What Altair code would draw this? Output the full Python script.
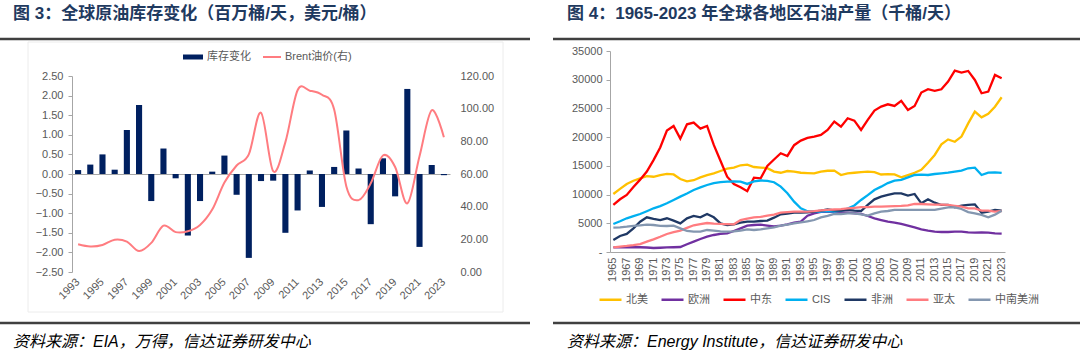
import altair as alt
import pandas as pd

# ---------------- Figure 3: inventory change & Brent ----------------
years3 = [str(y) for y in range(1993, 2024)]
stock_change = [0.10, 0.24, 0.50, 0.11, 1.12, 1.76, -0.69, 0.65, -0.11, -1.57,
                -0.69, 0.06, 0.47, -0.53, -2.14, -0.18, -0.17, -1.50, -0.93, 0.09,
                -0.84, 0.18, 1.11, 0.14, -1.28, 0.40, -0.57, 2.17, -1.86, 0.23, -0.03]
brent = [17.0, 15.6, 16.5, 19.8, 18.6, 12.8, 17.8, 28.4, 24.4, 24.9,
         28.8, 38.2, 54.8, 65.2, 72.0, 97.5, 61.7, 79.5, 111.3, 111.0,
         108.5, 99.5, 52.4, 44.0, 54.3, 71.3, 64.3, 42.0, 70.9, 99.0, 82.5]
left_ticks = [-2.5, -2.0, -1.5, -1.0, -0.5, 0.0, 0.5, 1.0, 1.5, 2.0, 2.5]
right_ticks = [0, 20, 40, 60, 80, 100, 120]
label_years3 = years3[::2]
series3 = ["库存变化", "Brent油价(右)"]

# ---------------- Figure 4: regional oil production ----------------
years4 = [str(y) for y in range(1965, 2024)]
regions = ["北美", "欧洲", "中东", "CIS", "非洲", "亚太", "中南美洲"]
region_colors = ["#FFC000", "#7030A0", "#FF0000", "#00B0F0", "#1F3864", "#FF7C80", "#8497B0"]
north_america = [10100, 11000, 11850, 12400, 12830, 13200, 13100, 13400, 13600, 13500,
                 12700, 12300, 12500, 13000, 13400, 13700, 14100, 14500, 14700, 15100,
                 15200, 14800, 14700, 14600, 14000, 13800, 14100, 14000, 13800, 13750,
                 13700, 14000, 14150, 14170, 13400, 13700, 13800, 13900, 14000, 13900,
                 13500, 13550, 13500, 13000, 13400, 13800, 14300, 15550, 16900, 18750,
                 19600, 19200, 20100, 22400, 24450, 23450, 24050, 25300, 26950]
europe = [810, 820, 830, 830, 830, 780, 700, 740, 800, 830,
          870, 1340, 1800, 2260, 2670, 2960, 3140, 3250, 3660, 4120,
          4590, 4700, 4750, 4600, 4450, 4600, 4820, 5110, 5300, 6330,
          6740, 7000, 7030, 6950, 6900, 6850, 6750, 6620, 6270, 5870,
          5570, 5280, 5110, 4880, 4590, 4300, 3950, 3720, 3540, 3480,
          3480, 3540, 3540, 3430, 3370, 3430, 3370, 3250, 3190]
middle_east = [8190, 9180, 9930, 11300, 12600, 14000, 16000, 18200, 21140, 21950,
               19740, 22240, 22530, 21490, 21950, 18640, 15900, 13120, 11850, 11270,
               10600, 12950, 12830, 14980, 16100, 17190, 16720, 18600, 19400, 19860,
               20090, 20380, 21250, 22700, 21830, 23290, 22880, 21250, 23000, 24620,
               25320, 25720, 25430, 26310, 24740, 25430, 27760, 28340, 28050, 28340,
               29670, 31590, 31240, 31530, 29960, 27640, 27930, 30830, 30250]
cis = [4880, 5350, 5870, 6250, 6620, 7100, 7610, 8000, 8480, 9060,
       9640, 10200, 10800, 11250, 11670, 12000, 12150, 12250, 12300, 12250,
       11850, 12300, 12450, 12400, 12150, 11380, 10220, 8770, 7610, 7100,
       7030, 7030, 7100, 7030, 7200, 7550, 8100, 9060, 9900, 10800,
       11380, 12000, 12430, 12550, 13000, 13410, 13470, 13410, 13580, 13700,
       13820, 14000, 14170, 14580, 14690, 13410, 13820, 13880, 13760]
africa = [2090, 2790, 3140, 4120, 5280, 6040, 5750, 5570, 5870, 5460,
          4990, 5870, 6270, 6040, 6620, 6040, 4990, 4700, 4820, 5110,
          5280, 5280, 5400, 5460, 5980, 6560, 6700, 6850, 6850, 6900,
          7030, 7200, 7400, 7250, 7200, 7320, 7200, 7140, 8190, 9170,
          9640, 9930, 10220, 10220, 9810, 10100, 8480, 9170, 8590, 8190,
          8190, 7780, 8070, 8190, 8300, 6850, 7030, 7320, 7200]
asia_pacific = [810, 930, 1050, 1200, 1390, 1800, 2210, 2650, 3140, 3450,
                3720, 4200, 4650, 4850, 5050, 4950, 4880, 4850, 4820, 5570,
                5800, 6040, 6100, 6330, 6500, 6850, 6950, 7030, 7030, 7030,
                7100, 7250, 7320, 7400, 7450, 7610, 7700, 7800, 7800, 7900,
                7900, 7950, 8000, 8020, 8100, 8360, 8360, 8300, 8250, 8250,
                8190, 8050, 7900, 7610, 7610, 7200, 7200, 7030, 7140]
south_central_america = [4240, 4300, 4410, 4550, 4650, 4750, 4700, 4550, 4530, 4600,
                         4120, 3660, 3540, 3540, 3830, 3720, 3600, 3540, 3600, 3720,
                         3950, 3830, 3950, 4120, 4300, 4590, 4750, 4990, 5150, 5350,
                         5570, 6040, 6280, 6620, 6620, 6740, 6740, 6560, 6330, 6740,
                         7030, 7140, 7320, 7320, 7320, 7320, 7320, 7320, 7320, 7550,
                         7780, 7780, 7490, 6950, 6740, 6450, 6040, 6500, 7200]
y4_ticks = [0, 5000, 10000, 15000, 20000, 25000, 30000, 35000]
label_years4 = years4[::2]

title3 = "图 3：全球原油库存变化（百万桶/天，美元/桶）"
title4 = "图 4：1965-2023 年全球各地区石油产量（千桶/天）"
source3 = "资料来源：EIA，万得，信达证券研发中心"
source4 = "资料来源：Energy Institute，信达证券研发中心"

FONT = "Liberation Sans, Noto Sans CJK SC, sans-serif"
TITLE_COLOR = "#1F3A5F"
LABEL_COLOR = "#595959"
AXIS_GRAY = "#A6A6A6"
RULE_COLOR = "#404040"
FRAME_COLOR = "#ECECEC"
NAVY = "#002060"
SALMON = "#FF7C80"

W, H = 1080, 356

dfA = pd.DataFrame({"year": years3, "stock": stock_change, "brent": brent,
                    "s_bar": series3[0], "s_line": series3[1]})
series4 = [north_america, europe, middle_east, cis, africa, asia_pacific, south_central_america]
dfB = pd.DataFrame([
    {"year": y, "value": v, "region": r}
    for r, vals in zip(regions, series4)
    for y, v in zip(years4, vals)
])
one = pd.DataFrame({"k": [0]})


def decorations(title, source, rule_x0, rule_x1, text_x):
    base = alt.Chart(one)
    t = base.mark_text(text=title, align="left", baseline="middle", font=FONT,
                       fontSize=17, fontWeight="bold", color=TITLE_COLOR).encode(
        x=alt.value(text_x), y=alt.value(14))
    r1 = base.mark_rule(color=RULE_COLOR, strokeWidth=2.5).encode(
        x=alt.value(rule_x0), x2=alt.value(rule_x1), y=alt.value(39))
    r2 = base.mark_rule(color=RULE_COLOR, strokeWidth=2.5).encode(
        x=alt.value(rule_x0), x2=alt.value(rule_x1), y=alt.value(323))
    s = base.mark_text(text=source, align="left", baseline="middle", font=FONT,
                       fontSize=16, fontStyle="italic", color="#000000").encode(
        x=alt.value(text_x), y=alt.value(342))
    return [t, r1, r2, s]


# faint frame around the left chart area
frame = alt.Chart(one).mark_rect(fill=None, stroke=FRAME_COLOR, strokeWidth=1).encode(
    x=alt.value(28), x2=alt.value(503), y=alt.value(42), y2=alt.value(312))

# ---------- left panel ----------
xscaleA = alt.Scale(type="band", domain=years3, range=[72, 450],
                    paddingInner=0.5, paddingOuter=0.25)

bars = alt.Chart(dfA).mark_bar().encode(
    x=alt.X("year:O", scale=xscaleA, title=None,
            axis=alt.Axis(orient="bottom", offset=272 - H, values=label_years3,
                          labelAngle=-45, labelAlign="right", labelBaseline="middle",
                          labelPadding=8, domain=False, ticks=False, grid=False,
                          labelFont=FONT, labelFontSize=11, labelColor=LABEL_COLOR)),
    y=alt.Y("stock:Q", scale=alt.Scale(domain=[-2.5, 2.5], range=[272, 76]), title=None,
            axis=alt.Axis(orient="left", offset=-72, values=left_ticks, format=".2f",
                          grid=False, domainColor=AXIS_GRAY, tickColor=AXIS_GRAY,
                          tickSize=4, labelPadding=5, labelFont=FONT, labelFontSize=11,
                          labelColor=LABEL_COLOR)),
    fill=alt.Fill("s_bar:N",
                  scale=alt.Scale(domain=[series3[0]], range=[NAVY]),
                  legend=alt.Legend(orient="none", legendX=182, legendY=46,
                                    title=None, padding=0,
                                    symbolType="M-1,-0.25L1,-0.25L1,0.25L-1,0.25Z",
                                    symbolSize=400, labelOffset=3,
                                    labelFont=FONT, labelFontSize=11,
                                    labelColor=LABEL_COLOR)),
)

line = alt.Chart(dfA).mark_line(strokeWidth=2, interpolate="cardinal").encode(
    x=alt.X("year:O", scale=xscaleA, bandPosition=0.5, title=None,
            axis=alt.Axis(orient="top", offset=-174, labels=False, ticks=False,
                          domain=True, domainColor=AXIS_GRAY, grid=False)),
    y=alt.Y("brent:Q", scale=alt.Scale(domain=[0, 120], range=[272, 76]), title=None,
            axis=alt.Axis(orient="right", offset=455 - W, values=right_ticks, format=".2f",
                          domain=False, ticks=False, grid=False, labelPadding=5,
                          labelFont=FONT, labelFontSize=11, labelColor=LABEL_COLOR)),
    stroke=alt.Stroke("s_line:N",
                      scale=alt.Scale(domain=[series3[1]], range=[SALMON]),
                      legend=alt.Legend(orient="none", legendX=262, legendY=47,
                                        title=None, padding=0, symbolType="stroke",
                                        symbolSize=324, symbolStrokeWidth=2,
                                        labelOffset=3, labelFont=FONT,
                                        labelFontSize=11, labelColor=LABEL_COLOR)),
)

# ---------- right panel ----------
xscaleB = alt.Scale(type="band", domain=years4, range=[610, 1005],
                    paddingInner=0, paddingOuter=0)

lines4 = alt.Chart(dfB).mark_line(strokeWidth=2.3).encode(
    x=alt.X("year:O", scale=xscaleB, bandPosition=0.5, title=None,
            axis=alt.Axis(orient="bottom", offset=252 - H, values=label_years4,
                          labelAngle=-90, labelAlign="right", labelBaseline="middle",
                          labelPadding=5, domainColor=AXIS_GRAY, ticks=False, grid=False,
                          labelFont=FONT, labelFontSize=11, labelColor=LABEL_COLOR)),
    y=alt.Y("value:Q", scale=alt.Scale(domain=[0, 35000], range=[252, 51]), title=None,
            axis=alt.Axis(orient="left", offset=-610, values=y4_ticks, format="d",
                          labelExpr="datum.value == 0 ? '-' : datum.label",
                          grid=False, domainColor=AXIS_GRAY, tickColor=AXIS_GRAY,
                          tickSize=4, labelPadding=4, labelFont=FONT, labelFontSize=11,
                          labelColor=LABEL_COLOR)),
    color=alt.Color("region:N", sort=regions,
                    scale=alt.Scale(domain=regions, range=region_colors),
                    legend=alt.Legend(orient="none", legendX=598, legendY=287,
                                      direction="horizontal", columns=7, title=None,
                                      padding=0, symbolType="stroke", symbolSize=484,
                                      symbolStrokeWidth=2.5, labelOffset=3,
                                      columnPadding=8, labelFont=FONT,
                                      labelFontSize=11, labelColor=LABEL_COLOR)),
)

layers = ([frame]
          + decorations(title3, source3, 0, 530, 13)
          + decorations(title4, source4, 553, 1080, 567)
          + [bars, line, lines4])

chart = alt.layer(*layers).resolve_scale(
    x="independent", y="independent"
).properties(
    width=W, height=H, padding=0, background="white",
    autosize=alt.AutoSizeParams(type="none")
).configure_view(stroke=None)

chart.save("out.html", embed_options={"renderer": "svg", "actions": False})
